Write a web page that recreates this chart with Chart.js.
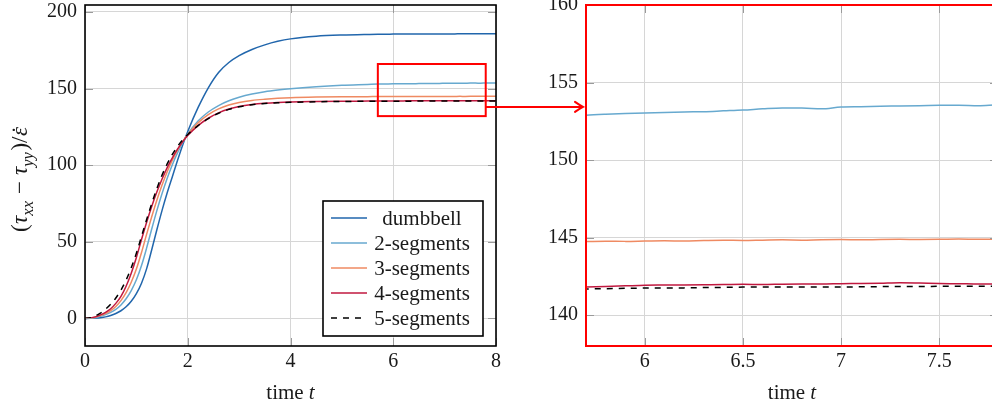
<!DOCTYPE html>
<html>
<head>
<meta charset="utf-8">
<script src="https://cdn.jsdelivr.net/npm/chart.js@4.4.1/dist/chart.umd.min.js"></script>
<style>
  html, body { margin: 0; padding: 0; background: #fff; overflow: hidden; width: 992px; height: 409px; }
  .panel { position: absolute; top: 0; }
  #zoomPanel { left: 520px; }
  #mainPanel { left: 0; }
</style>
</head>
<body>
<canvas id="zoomPanel" class="panel" width="480" height="409"></canvas>
<canvas id="mainPanel" class="panel" width="590" height="409"></canvas>
<script>
// ---- data -------------------------------------------------------------
const timeT = [
  0, 0.1, 0.2, 0.3, 0.4, 0.5, 0.6, 0.7, 0.8, 0.9,
  1.0, 1.1, 1.2, 1.3, 1.4, 1.5, 1.6, 1.7, 1.8, 1.9,
  2.0, 2.2, 2.4, 2.6, 2.8, 3.0, 3.25, 3.5, 3.75, 4.0,
  4.5, 5.0, 5.5,
  5.7, 5.8, 5.9, 6.0, 6.1, 6.2, 6.3, 6.4, 6.5, 6.6,
  6.7, 6.8, 6.9, 7.0, 7.1, 7.2, 7.3, 7.4, 7.5, 7.6,
  7.7, 7.8, 7.9, 8.0
];

const dumbbell = [
  0, 0.05, 0.2, 0.5, 1.0, 1.9, 3.2, 5.0, 7.6, 11.2,
  16.2, 23, 32.5, 45, 58, 70.5, 82, 92.5, 103, 113,
  122, 137.5, 150.5, 160.5, 167, 171.5, 175.5, 178.5, 180.8, 182.4,
  184.1, 184.9, 185.3,
  185.4, 185.4, 185.45, 185.5, 185.5, 185.5, 185.55, 185.55, 185.6, 185.6,
  185.6, 185.6, 185.65, 185.65, 185.65, 185.65, 185.7, 185.7, 185.7, 185.7,
  185.7, 185.7, 185.7, 185.7
];

const seg2 = [
  0, 0.15, 0.6, 1.4, 2.5, 3.9, 5.9, 8.8, 12.8, 18.2,
  25.2, 34.5, 46, 58.5, 70.5, 81.5, 91.5, 100.3, 108, 114.7,
  120.3, 128.8, 134.7, 138.9, 142.0, 144.3, 146.4, 147.9, 149.0, 149.9,
  151.2, 152.1, 152.65,
  152.88, 152.95, 153.0, 153.04, 153.06, 153.1, 153.12, 153.17, 153.22, 153.3,
  153.36, 153.36, 153.3, 153.42, 153.44, 153.47, 153.48, 153.5, 153.53, 153.54,
  153.5, 153.56, 153.57, 153.58
];

const seg3 = [
  0, 0.2, 0.8, 1.8, 3.2, 5.1, 7.8, 11.6, 16.8, 23.6,
  32.2, 43, 55, 66.5, 77.3, 87, 95.7, 103.3, 109.8, 115.3,
  120, 127.6, 133, 136.7, 139.2, 140.9, 142.2, 143.0, 143.6, 144.0,
  144.4, 144.6, 144.7,
  144.74, 144.76, 144.75, 144.77, 144.79, 144.77, 144.8, 144.82, 144.81, 144.83,
  144.85, 144.83, 144.86, 144.87, 144.85, 144.87, 144.88, 144.87, 144.88, 144.9,
  144.88, 144.88, 144.9, 144.9
];

const seg4 = [
  0, 0.3, 1.0, 2.3, 4.0, 6.3, 9.8, 14.4, 21, 29.5,
  39.8, 51.5, 62.8, 73.2, 82.6, 91, 98.4, 104.8, 110.4, 115.2,
  119.3, 125.8, 130.6, 134.1, 136.6, 138.3, 139.6, 140.4, 140.9, 141.2,
  141.5, 141.7, 141.78,
  141.81, 141.84, 141.88, 141.92, 141.93, 141.94, 141.95, 141.96, 141.98, 141.97,
  141.99, 142.0, 142.0, 142.02, 142.03, 142.05, 142.08, 142.06, 142.03, 142.02,
  142.0, 142.0, 142.01, 142.0
];

const seg5 = [
  0, 0.4, 1.6, 3.5, 6.0, 9.2, 13.3, 18.5, 25, 33,
  42.5, 53.5, 64.5, 75, 84.8, 93.5, 100.8, 107, 112.2, 116.4,
  120, 125.8, 130.4, 133.9, 136.4, 138.1, 139.4, 140.2, 140.7, 141.0,
  141.35, 141.55, 141.65,
  141.68, 141.7, 141.72, 141.74, 141.75, 141.75, 141.77, 141.78, 141.8, 141.8,
  141.81, 141.81, 141.8, 141.8, 141.82, 141.83, 141.84, 141.84, 141.85, 141.85,
  141.86, 141.86, 141.87, 141.87
];

const seriesNames = ['dumbbell', '2-segments', '3-segments', '4-segments', '5-segments'];
const seriesValues = [dumbbell, seg2, seg3, seg4, seg5];

const mainTicksX = [0, 2, 4, 6, 8];
const mainTicksY = [0, 50, 100, 150, 200];
const mainRangeX = [0, 8];
const mainRangeY = [-18, 204.5];

const zoomTicksX = [6, 6.5, 7, 7.5];
const zoomTicksY = [140, 145, 150, 155, 160];
const zoomRangeT = [5.7, 7.8];
const zoomRangeY = [138, 160];
const zoomBoxY = [132, 166];   // vertical extent of the marker box drawn in the main panel

// ---- styles -----------------------------------------------------------
const FONT = '"Liberation Serif", "Times New Roman", serif';
const FONT_SIZE = 20;
const LEGEND_SIZE = 21;
const TITLE_SIZE = 23;
const TEXT_COLOR = '#1a1a1a';
const GRID_COLOR = '#d6d6d6';
const TICK_MARK_COLOR = '#9a9a9a';
const seriesColors = ['#2166ac', '#67a9cf', '#ef8a62', '#c0183f', '#000000'];
const seriesDash = [[], [], [], [], [6, 6]];
const ARROW_TIP_X = 583;

Chart.defaults.font.family = FONT;
Chart.defaults.font.size = FONT_SIZE;
Chart.defaults.color = TEXT_COLOR;

function buildDatasets() {
  return seriesNames.map((name, k) => ({
    label: name,
    data: timeT.map((t, i) => ({ x: t, y: seriesValues[k][i] })),
    borderColor: seriesColors[k],
    borderWidth: 1.5,
    borderDash: seriesDash[k],
    pointRadius: 0,
    cubicInterpolationMode: 'monotone',
    fill: false,
    order: seriesNames.length - k
  }));
}

function fixedTicks(values) {
  return scale => { scale.ticks = values.map(v => ({ value: v })); };
}

// keep the plot frame exactly where the layout puts it (labels may overhang)
function fixedSize(prop, size) {
  return scale => {
    scale[prop] = size;
    scale.paddingTop = 0; scale.paddingBottom = 0;
    scale.paddingLeft = 0; scale.paddingRight = 0;
  };
}

function innerTickMarks(chart, len) {
  const { ctx, chartArea: { left, right, top, bottom }, scales: { x, y } } = chart;
  ctx.save();
  ctx.strokeStyle = TICK_MARK_COLOR;
  ctx.lineWidth = 1;
  ctx.beginPath();
  x.ticks.forEach(t => {
    const px = Math.round(x.getPixelForValue(t.value)) + 0.5;
    ctx.moveTo(px, bottom); ctx.lineTo(px, bottom - len);
    ctx.moveTo(px, top); ctx.lineTo(px, top + len);
  });
  y.ticks.forEach(t => {
    const py = Math.round(y.getPixelForValue(t.value)) + 0.5;
    ctx.moveTo(left, py); ctx.lineTo(left + len, py);
    ctx.moveTo(right, py); ctx.lineTo(right - len, py);
  });
  ctx.stroke();
  ctx.restore();
}

// Draw a run of text pieces: [text, italic, subscript, gapBefore, gapAfter, dotAbove]
function richRun(ctx, parts, size, x0, baseline, measureOnly) {
  let x = x0;
  parts.forEach(([txt, it, sub, g0 = 0, g1 = 0, dot = false]) => {
    const sz = sub ? size * 0.72 : size;
    ctx.font = (it ? 'italic ' : '') + sz + 'px ' + FONT;
    const w = ctx.measureText(txt).width;
    x += g0;
    if (!measureOnly) {
      ctx.textAlign = 'left';
      ctx.fillText(txt, x, baseline + (sub ? size * 0.24 : 0));
      if (dot) {
        ctx.font = sz + 'px ' + FONT;
        ctx.textAlign = 'center';
        ctx.fillText('˙', x + w / 2 + 1.5, baseline + 1);
        ctx.textAlign = 'left';
      }
    }
    x += w + g1;
  });
  return x - x0;
}

const timeLabel = [['time ', false, false], ['t', true, false]];
const stressLabel = [
  ['(', false, false], ['τ', true, false, 0.5], ['xx', true, true, 0, 1],
  ['−', false, false, 6, 6], ['τ', true, false], ['yy', true, true, 0, 1],
  [')', false, false, 0.5], ['/', false, false], ['ε', true, false, 0.5, 0, true]
];

function drawTimeTitle(chart) {
  const { ctx, chartArea: { left, right } } = chart;
  ctx.save();
  ctx.fillStyle = TEXT_COLOR;
  ctx.textBaseline = 'alphabetic';
  const w = richRun(ctx, timeLabel, LEGEND_SIZE, 0, 0, true);
  richRun(ctx, timeLabel, LEGEND_SIZE, (left + right) / 2 - w / 2, 399, false);
  ctx.restore();
}

// ---- main panel ----------------------------------------------------------
const mainDecor = {
  id: 'mainDecor',
  afterDatasetsDraw(chart) {
    const { ctx, chartArea, scales: { x, y } } = chart;
    const { left, right, top, bottom } = chartArea;
    innerTickMarks(chart, 8);

    // axis frame
    ctx.save();
    ctx.strokeStyle = '#000';
    ctx.lineWidth = 1.6;
    ctx.strokeRect(left, top, right - left, bottom - top);

    // marker box for the magnified window + arrow to the right panel
    const bx0 = x.getPixelForValue(zoomRangeT[0]);
    const bx1 = x.getPixelForValue(zoomRangeT[1]);
    const by0 = y.getPixelForValue(zoomBoxY[1]);
    const by1 = y.getPixelForValue(zoomBoxY[0]);
    ctx.strokeStyle = '#ff0000';
    ctx.lineWidth = 2;
    ctx.strokeRect(bx0, by0, bx1 - bx0, by1 - by0);
    const ay = y.getPixelForValue(zoomRangeY[0]);
    ctx.beginPath();
    ctx.moveTo(bx1, ay);
    ctx.lineTo(ARROW_TIP_X, ay);
    ctx.stroke();
    ctx.lineCap = 'round';
    ctx.beginPath();
    ctx.moveTo(ARROW_TIP_X - 8, ay - 5);
    ctx.quadraticCurveTo(ARROW_TIP_X - 3, ay - 1.5, ARROW_TIP_X, ay);
    ctx.quadraticCurveTo(ARROW_TIP_X - 3, ay + 1.5, ARROW_TIP_X - 8, ay + 5);
    ctx.stroke();
    ctx.restore();

    // legend
    const lx0 = 323, lx1 = 483, ly0 = 201, ly1 = 336;
    ctx.save();
    ctx.fillStyle = '#fff';
    ctx.fillRect(lx0, ly0, lx1 - lx0, ly1 - ly0);
    ctx.strokeStyle = '#000';
    ctx.lineWidth = 1.6;
    ctx.strokeRect(lx0, ly0, lx1 - lx0, ly1 - ly0);
    chart.data.datasets.forEach((ds, i) => {
      const cy = 218 + i * 25;
      ctx.strokeStyle = ds.borderColor;
      ctx.lineWidth = 1.5;
      ctx.setLineDash(ds.borderDash || []);
      ctx.beginPath();
      ctx.moveTo(331, cy);
      ctx.lineTo(367, cy);
      ctx.stroke();
      ctx.setLineDash([]);
      ctx.fillStyle = TEXT_COLOR;
      ctx.font = LEGEND_SIZE + 'px ' + FONT;
      ctx.textAlign = 'center';
      ctx.textBaseline = 'middle';
      ctx.fillText(ds.label, 422, cy + 1);
    });
    ctx.restore();

    // axis titles
    drawTimeTitle(chart);
    ctx.save();
    ctx.fillStyle = TEXT_COLOR;
    ctx.textBaseline = 'alphabetic';
    const w = richRun(ctx, stressLabel, TITLE_SIZE, 0, 0, true);
    ctx.translate(21, (top + bottom) / 2 + 4);
    ctx.rotate(-Math.PI / 2);
    richRun(ctx, stressLabel, TITLE_SIZE, -w / 2, 6, false);
    ctx.restore();
  }
};

new Chart(document.getElementById('mainPanel'), {
  type: 'line',
  data: { datasets: buildDatasets() },
  options: {
    responsive: false,
    animation: false,
    devicePixelRatio: 1,
    layout: { padding: { top: 5, right: 94, left: 0, bottom: 0 } },
    plugins: { legend: { display: false }, tooltip: { enabled: false } },
    scales: {
      x: {
        type: 'linear', min: mainRangeX[0], max: mainRangeX[1],
        afterBuildTicks: fixedTicks(mainTicksX),
        afterFit: fixedSize('height', 63),
        grid: { color: GRID_COLOR, drawTicks: false },
        border: { display: false },
        ticks: { padding: 4, maxRotation: 0, callback: v => String(v) }
      },
      y: {
        type: 'linear', min: mainRangeY[0], max: mainRangeY[1],
        afterBuildTicks: fixedTicks(mainTicksY),
        afterFit: fixedSize('width', 85),
        grid: { color: GRID_COLOR, drawTicks: false },
        border: { display: false },
        ticks: { padding: 8, callback: v => String(v) }
      }
    }
  },
  plugins: [mainDecor]
});

// ---- magnified panel -------------------------------------------------------
const zoomDecor = {
  id: 'zoomDecor',
  afterDatasetsDraw(chart) {
    const { ctx, chartArea: { left, right, top, bottom } } = chart;
    innerTickMarks(chart, 8);
    ctx.save();
    ctx.strokeStyle = '#ff0000';
    ctx.lineWidth = 2;
    ctx.strokeRect(left, top, right - left, bottom - top);
    ctx.restore();
    drawTimeTitle(chart);
  }
};

new Chart(document.getElementById('zoomPanel'), {
  type: 'line',
  data: { datasets: buildDatasets() },
  options: {
    responsive: false,
    animation: false,
    devicePixelRatio: 1,
    layout: { padding: { top: 5, right: 2, left: 0, bottom: 0 } },
    plugins: { legend: { display: false }, tooltip: { enabled: false } },
    scales: {
      x: {
        type: 'linear', min: zoomRangeT[0], max: zoomRangeT[1],
        afterBuildTicks: fixedTicks(zoomTicksX),
        afterFit: fixedSize('height', 63),
        grid: { color: GRID_COLOR, drawTicks: false },
        border: { display: false },
        ticks: { padding: 4, maxRotation: 0, callback: v => String(v) }
      },
      y: {
        type: 'linear', min: zoomRangeY[0], max: zoomRangeY[1],
        afterBuildTicks: fixedTicks(zoomTicksY),
        afterFit: fixedSize('width', 66),
        grid: { color: GRID_COLOR, drawTicks: false },
        border: { display: false },
        ticks: { padding: 8, callback: v => String(v) }
      }
    }
  },
  plugins: [zoomDecor]
});
</script>
</body>
</html>
